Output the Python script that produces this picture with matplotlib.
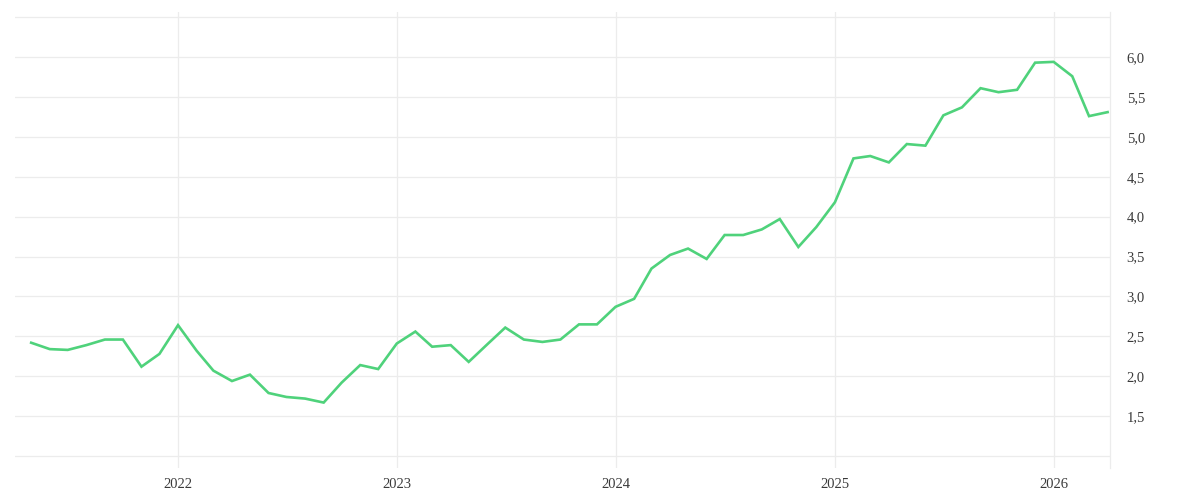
import numpy as np
import pandas as pd
import matplotlib
matplotlib.use("Agg")
import matplotlib.pyplot as plt
import matplotlib.dates as mdates
from matplotlib.ticker import FixedLocator, FuncFormatter

# monthly values, May 2021 .. April 2026
months = pd.date_range("2021-05-01", "2026-04-01", freq="MS")
values = [
    2.42, 2.34, 2.33, 2.39, 2.46, 2.46, 2.12, 2.28,                 # 2021
    2.64, 2.32, 2.07, 1.94, 2.02, 1.79, 1.74, 1.72, 1.67, 1.92, 2.14, 2.09,  # 2022
    2.41, 2.56, 2.37, 2.39, 2.18, 2.40, 2.61, 2.46, 2.43, 2.46, 2.65, 2.65,  # 2023
    2.87, 2.97, 3.35, 3.52, 3.60, 3.47, 3.77, 3.77, 3.84, 3.97, 3.62, 3.87,  # 2024
    4.18, 4.73, 4.76, 4.68, 4.91, 4.89, 5.27, 5.37, 5.61, 5.56, 5.59, 5.93,  # 2025
    5.94, 5.76, 5.26, 5.31,                                         # 2026
]
year_ticks = pd.to_datetime(["2022-01-01", "2023-01-01", "2024-01-01", "2025-01-01", "2026-01-01"])
y_grid = [1.0, 1.5, 2.0, 2.5, 3.0, 3.5, 4.0, 4.5, 5.0, 5.5, 6.0, 6.5]
y_labelled = [1.5, 2.0, 2.5, 3.0, 3.5, 4.0, 4.5, 5.0, 5.5, 6.0]

line_color = "#4fd27b"
grid_color = "#ececec"
text_color = "#3a3a3a"

plt.rcParams["font.family"] = ["Liberation Serif", "DejaVu Serif"]

fig = plt.figure(figsize=(12, 5), dpi=100)
# axes box in pixels: x 15..1110, y 12..468
ax = fig.add_axes([15 / 1200, 1 - 468 / 500, (1110 - 15) / 1200, (468 - 12) / 500])

ax.plot(months, values, color=line_color, linewidth=1.9, solid_joinstyle="miter", zorder=3)

ax.set_xlim(pd.Timestamp("2021-04-04"), pd.Timestamp("2026-04-05"))
ax.set_ylim(0.85, 6.565)

ax.xaxis.set_major_locator(FixedLocator(mdates.date2num(year_ticks)))
ax.xaxis.set_major_formatter(mdates.DateFormatter("%Y"))

ax.yaxis.set_major_locator(FixedLocator(y_grid))
ax.yaxis.set_major_formatter(FuncFormatter(
    lambda v, p: (f"{v:.1f}".replace(".", ",") if any(abs(v - t) < 1e-9 for t in y_labelled) else "")))
ax.yaxis.tick_right()

ax.grid(True, color=grid_color, linewidth=0.9)
ax.set_axisbelow(True)

for side in ["top", "left", "bottom"]:
    ax.spines[side].set_visible(False)
ax.spines["right"].set_color(grid_color)
ax.spines["right"].set_linewidth(0.9)

ax.tick_params(axis="both", length=0, labelsize=10.5, labelcolor=text_color)
ax.tick_params(axis="y", pad=12)
ax.tick_params(axis="x", pad=7)

fig.savefig("out.png", dpi=100, facecolor="white")
